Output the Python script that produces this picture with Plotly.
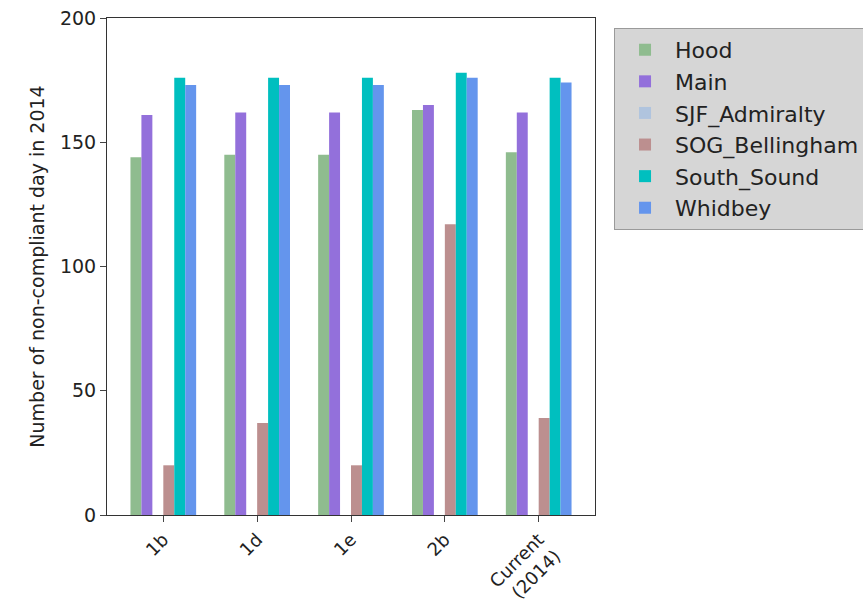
import plotly.graph_objects as go

categories = ["1b", "1d", "1e", "2b", "Current<br>(2014)"]
hood = [144, 145, 145, 163, 146]
main = [161, 162, 162, 165, 162]
sjf_admiralty = [0, 0, 0, 0, 0]
sog_bellingham = [20, 37, 20, 117, 39]
south_sound = [176, 176, 176, 178, 176]
whidbey = [173, 173, 173, 176, 174]

series = [
    ("Hood", hood, "#8FBC8F"),
    ("Main", main, "#9370DB"),
    ("SJF_Admiralty", sjf_admiralty, "#B0C4DE"),
    ("SOG_Bellingham", sog_bellingham, "#BC8F8F"),
    ("South_Sound", south_sound, "#00BFBF"),
    ("Whidbey", whidbey, "#6495ED"),
]

fig = go.Figure()
for name, vals, col in series:
    fig.add_trace(go.Bar(x=categories, y=vals, name=name,
                         marker=dict(color=col, line=dict(width=0))))

font = "DejaVu Sans"
fig.update_layout(
    width=863, height=605,
    margin=dict(l=107, r=268, t=18, b=90, autoexpand=False),
    barmode="group", bargap=0.3, bargroupgap=0,
    plot_bgcolor="white", paper_bgcolor="white",
    font=dict(family=font, size=19, color="#222"),
    legend=dict(x=1.039, y=0.98, xanchor="left", yanchor="top",
                bgcolor="#d6d6d6", bordercolor="#9a9a9a", borderwidth=1,
                font=dict(size=22, family=font), tracegroupgap=0,
                itemsizing="constant", itemwidth=50),
    showlegend=True,
)
fig.update_xaxes(range=[-0.6, 4.6], tickangle=-45, ticks="outside", ticklen=6,
                 showline=True, linecolor="#333", mirror=True, showgrid=False,
                 tickfont=dict(size=18), automargin=False,
                 ticklabeloverflow="allow")
fig.update_yaxes(range=[0, 200], tickvals=[0, 50, 100, 150, 200], ticks="outside",
                 ticklen=6, showline=True, linecolor="#333", mirror=True,
                 showgrid=False, zeroline=False, tickfont=dict(size=19),
                 automargin=False, ticklabeloverflow="allow",
                 title=dict(text="Number of non-compliant day in 2014",
                            font=dict(size=19), standoff=10))
fig.write_html("out.html", config={"displayModeBar": False},
               post_script="document.body.style.margin='0';document.body.style.overflow='hidden';")
